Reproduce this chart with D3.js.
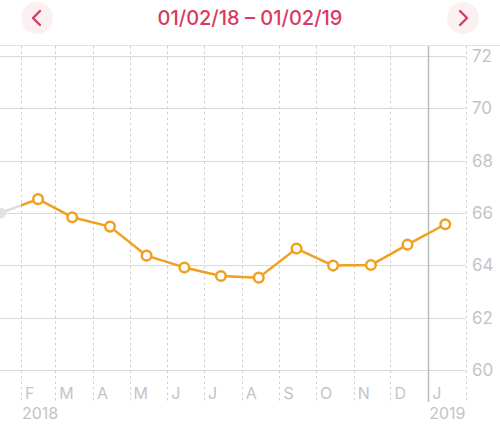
<!DOCTYPE html>
<html>
<head>
<meta charset="utf-8">
<script src="https://cdn.jsdelivr.net/npm/d3@7.9.0/dist/d3.min.js"></script>
<style>
  body { margin: 0; background: #fff; }
  svg { display: block; font-family: Inter, "Open Sans", sans-serif; }
</style>
</head>
<body>
<div id="chart"></div>
<script>
const width = 500;
const height = 429;

// data
const months = ['2018-02-15', '2018-03-15', '2018-04-15', '2018-05-15', '2018-06-15', '2018-07-15',
  '2018-08-15', '2018-09-15', '2018-10-15', '2018-11-15', '2018-12-15', '2019-01-15'];
const values = [66.53, 65.84, 65.48, 64.37, 63.92, 63.59, 63.53, 64.64, 63.99, 64.01, 64.79, 65.57];
const prevMonth = '2018-01-15';
const prevValue = 66.0;
const boundaries = ['2018-02-01', '2018-03-01', '2018-04-01', '2018-05-01', '2018-06-01', '2018-07-01',
  '2018-08-01', '2018-09-01', '2018-10-01', '2018-11-01', '2018-12-01', '2019-01-01', '2019-02-01'];
const monthLetters = ['F', 'M', 'A', 'M', 'J', 'J', 'A', 'S', 'O', 'N', 'D', 'J'];
const yTicks = [60, 62, 64, 66, 68, 70, 72];
const title = '01/02/18 – 01/02/19';

const parse = d3.utcParse('%Y-%m-%d');
const points = months.map((m, i) => ({ date: parse(m), value: values[i] }));
const prev = { date: parse(prevMonth), value: prevValue };
const bounds = boundaries.map(parse);

const svg = d3.select('#chart').append('svg')
  .attr('width', width)
  .attr('height', height);

const x = d3.scaleUtc()
  .domain([parse('2018-02-01'), parse('2019-02-01')])
  .range([21, 466]);

const y = d3.scaleLinear()
  .domain([60, 72])
  .range([370, 56]);

// HEADER
const accent = '#d93a60';
[37, 463].forEach((cx, i) => {
  svg.append('circle')
    .attr('cx', cx).attr('cy', 18).attr('r', 16)
    .attr('fill', '#fdf0f3');
  const d = i === 0
    ? `M${cx + 3},${18 - 7} L${cx - 4},18 L${cx + 3},${18 + 7}`
    : `M${cx - 3},${18 - 7} L${cx + 4},18 L${cx - 3},${18 + 7}`;
  svg.append('path')
    .attr('d', d)
    .attr('fill', 'none')
    .attr('stroke', accent)
    .attr('stroke-width', 2.4)
    .attr('stroke-linecap', 'round')
    .attr('stroke-linejoin', 'round');
});

svg.append('text')
  .attr('x', 250).attr('y', 18)
  .attr('text-anchor', 'middle')
  .attr('dominant-baseline', 'central')
  .attr('fill', accent)
  .style('font-size', '20px')
  .style('font-weight', 500)
  .text(title);

// top border
svg.append('line')
  .attr('x1', 0).attr('x2', width)
  .attr('y1', 45.5).attr('y2', 45.5)
  .attr('stroke', '#e2e2e2');

// GRID
svg.append('g')
  .selectAll('line')
  .data(yTicks)
  .join('line')
  .attr('x1', 0).attr('x2', x(bounds[bounds.length - 1]))
  .attr('y1', d => Math.round(y(d)) + 0.5)
  .attr('y2', d => Math.round(y(d)) + 0.5)
  .attr('stroke', '#dadada');

svg.append('g')
  .selectAll('line')
  .data(bounds)
  .join('line')
  .attr('x1', d => Math.round(x(d)) + 0.5)
  .attr('x2', d => Math.round(x(d)) + 0.5)
  .attr('y1', 46)
  .attr('y2', 402)
  .attr('stroke', (d, i) => i === 11 ? '#bcbcbc' : '#cfcfcf')
  .attr('stroke-width', (d, i) => i === 11 ? 1.5 : 1)
  .attr('stroke-dasharray', (d, i) => i === 11 ? null : '2.5,3');

// AXIS LABELS
const labelColor = '#c4c4c6';
svg.append('g')
  .selectAll('text')
  .data(yTicks)
  .join('text')
  .attr('x', 472)
  .attr('y', d => y(d))
  .attr('dominant-baseline', 'central')
  .attr('fill', labelColor)
  .style('font-size', '17px')
  .text(d => d);

svg.append('g')
  .selectAll('text')
  .data(bounds.slice(0, 12))
  .join('text')
  .attr('x', d => x(d) + 4)
  .attr('y', 399)
  .attr('fill', labelColor)
  .style('font-size', '16px')
  .text((d, i) => monthLetters[i]);

svg.append('text')
  .attr('x', x(bounds[0]) + 1).attr('y', 419)
  .attr('fill', labelColor)
  .style('font-size', '16px')
  .text('2018');

svg.append('text')
  .attr('x', x(bounds[11]) + 1).attr('y', 419)
  .attr('fill', labelColor)
  .style('font-size', '16px')
  .text('2019');

// LINE
const all = [prev, ...points];
const line = d3.line()
  .x(d => x(d.date))
  .y(d => y(d.value));

const split = x(bounds[0]);
const defs = svg.append('defs');
defs.append('clipPath').attr('id', 'before')
  .append('rect').attr('x', 0).attr('y', 0).attr('width', split).attr('height', height);
defs.append('clipPath').attr('id', 'after')
  .append('rect').attr('x', split).attr('y', 0).attr('width', width - split).attr('height', height);

svg.append('path')
  .datum(all)
  .attr('d', line)
  .attr('fill', 'none')
  .attr('stroke', '#dedede')
  .attr('stroke-width', 2.5)
  .attr('clip-path', 'url(#before)');

svg.append('path')
  .datum(all)
  .attr('d', line)
  .attr('fill', 'none')
  .attr('stroke', '#f0a020')
  .attr('stroke-width', 2.5)
  .attr('stroke-linejoin', 'round')
  .attr('clip-path', 'url(#after)');

svg.append('circle')
  .attr('cx', x(prev.date))
  .attr('cy', y(prev.value))
  .attr('r', 5.5)
  .attr('fill', '#e2e2e2');

svg.append('g')
  .selectAll('circle')
  .data(points)
  .join('circle')
  .attr('cx', d => x(d.date))
  .attr('cy', d => y(d.value))
  .attr('r', 4.8)
  .attr('fill', '#fff')
  .attr('stroke', '#f0a020')
  .attr('stroke-width', 2.5);
</script>
</body>
</html>
